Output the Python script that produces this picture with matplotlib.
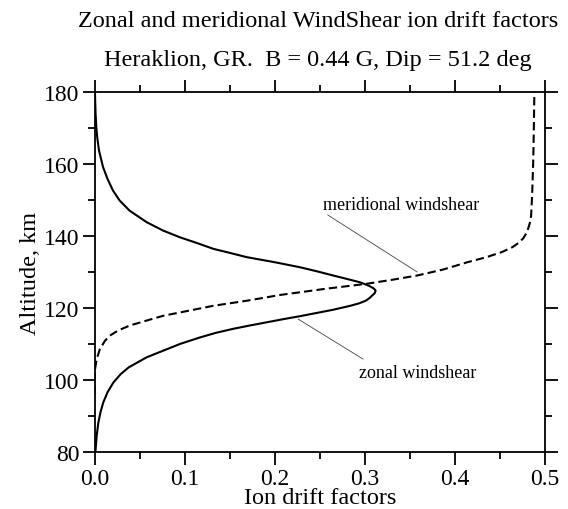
import matplotlib
matplotlib.use("Agg")
import matplotlib.pyplot as plt
from matplotlib.ticker import MultipleLocator

# altitude (km) and ion drift factor
alt_zonal = [80, 84.6, 88.3, 91.1, 93.9, 96.7, 99.4, 101.7, 103.6, 105, 106.4,
             108.2, 110.1, 111.9, 113.2, 114.3, 115.2, 116.1, 117.0, 117.8,
             119.6, 120.7, 121.4, 122.1, 122.8, 123.5, 124.2, 124.9, 125.5,
             126.2, 127.2, 128.1, 129.1, 130.2, 131.4, 132.8, 134.2, 135.4,
             136.5, 138.1, 139.7, 141.6, 143.9, 147.1, 149.9, 152.7, 155.9,
             159.2, 163.8, 167.5, 170.3, 174, 177, 180]
x_zonal = [0.001, 0.0024, 0.0043, 0.0066, 0.0098, 0.0145, 0.021, 0.029, 0.038,
           0.048, 0.058, 0.076, 0.095, 0.117, 0.135, 0.154, 0.172, 0.191, 0.21,
           0.228, 0.265, 0.284, 0.294, 0.301, 0.305, 0.308, 0.311, 0.312,
           0.310, 0.305, 0.295, 0.281, 0.265, 0.248, 0.228, 0.2, 0.169, 0.15,
           0.132, 0.114, 0.095, 0.076, 0.058, 0.039, 0.028, 0.0205, 0.0145,
           0.0095, 0.005, 0.003, 0.002, 0.0012, 0.0008, 0.0005]

alt_merid = [96.2, 100.4, 103.1, 105.9, 108.7, 111.0, 112.4, 113.8, 115.2,
             116.6, 117.9, 119.3, 120.7, 122.1, 123.7, 125.4, 126.8, 127.9,
             129.1, 130.7, 132.8, 134.2, 135.6, 137.0, 138.3, 139.5, 141.1,
             143.5, 145.7, 151.3, 160.5, 169.8, 180]
x_merid = [0.0, 0.0003, 0.0006, 0.0024, 0.006, 0.0117, 0.017, 0.026, 0.039,
           0.058, 0.076, 0.104, 0.132, 0.169, 0.206, 0.256, 0.302, 0.33, 0.358,
           0.386, 0.414, 0.435, 0.452, 0.464, 0.4715, 0.4760, 0.4800, 0.4830,
           0.4846, 0.4857, 0.4869, 0.4876, 0.4882]

# leader lines for the curve labels: (x0, x1), (alt0, alt1)
merid_lead_x = [0.259, 0.358]
merid_lead_y = [145.9, 130.1]
zonal_lead_x = [0.226, 0.298]
zonal_lead_y = [117.0, 105.9]

plt.rcParams['font.family'] = 'Liberation Serif'

fig = plt.figure(figsize=(5.68, 5.10), dpi=100)
ax = fig.add_axes([0.1664, 0.1112, 0.7931, 0.7059])

ax.plot(x_zonal, alt_zonal, color='black', lw=1.5)
ax.plot(x_merid, alt_merid, color='black', lw=1.5, ls=(0, (4, 2)))

ax.plot(merid_lead_x, merid_lead_y, color='#444444', lw=0.6)
ax.plot(zonal_lead_x, zonal_lead_y, color='#444444', lw=0.6)
ax.text(0.34, 148.7, 'meridional windshear', fontsize=13, ha='center',
        va='center')
ax.text(0.359, 102.3, 'zonal windshear', fontsize=13, ha='center',
        va='center')

ax.set_xlim(0, 0.5)
ax.set_ylim(80, 180)
ax.xaxis.set_major_locator(MultipleLocator(0.1))
ax.xaxis.set_minor_locator(MultipleLocator(0.05))
ax.yaxis.set_major_locator(MultipleLocator(20))
ax.yaxis.set_minor_locator(MultipleLocator(10))
ax.xaxis.set_major_formatter(plt.FormatStrFormatter('%.1f'))
ax.tick_params(which='both', direction='out', top=True, right=True, width=1.3,
               labelsize=17, pad=2)
ax.tick_params(which='major', length=9)
ax.tick_params(which='minor', length=5)
for s in ax.spines.values():
    s.set_linewidth(1.3)

ax.set_xlabel('Ion drift factors', fontsize=17.5, labelpad=-1)
ax.set_ylabel('Altitude, km', fontsize=17.5, labelpad=2)

fig.text(0.56, 0.957, 'Zonal and meridional WindShear ion drift factors',
         ha='center', va='center', fontsize=17.5)
fig.text(0.56, 0.882, 'Heraklion, GR.  B = 0.44 G, Dip = 51.2 deg',
         ha='center', va='center', fontsize=17.5)

fig.savefig('out.png', dpi=100)
